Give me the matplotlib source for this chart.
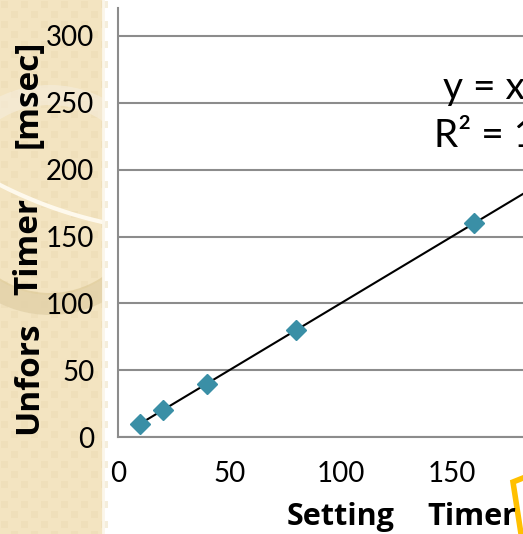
import matplotlib
matplotlib.use("Agg")
import matplotlib.pyplot as plt
from matplotlib.patches import Rectangle, Wedge
import numpy as np

# Data
setting_timer = [10, 20, 40, 80, 160]
unfors_timer = [10, 20, 40, 80, 160]
y_ticks = [0, 50, 100, 150, 200, 250, 300]
x_ticks = [0, 50, 100, 150, 200]
slope, intercept = 1.0, 0.0
eq_text = "y = x"
r2_text = "R² = 1"
x_label_words = ["Setting", "Timer", "[msec]"]
y_label_words = ["Unfors", "Timer", "[msec]"]

W, H = 523, 534
fig = plt.figure(figsize=(W / 100, H / 100), dpi=100)
fig.patch.set_facecolor("white")

# Background decoration (pixel coordinates)
bg = fig.add_axes([0, 0, 1, 1], zorder=0)
bg.set_xlim(0, W)
bg.set_ylim(H, 0)
bg.axis("off")
strip = Rectangle((0, 0), 103, H, facecolor="#F3E4C1", edgecolor="none")
bg.add_patch(strip)
for i in range(0, 103, 10):
    for j in range(0, H, 10):
        if ((i // 10) + (j // 10)) % 2 == 0:
            r = Rectangle((i + 1, j + 1), 7, 7, facecolor="#EBDAB2", edgecolor="none", alpha=0.45)
            bg.add_patch(r)
ring = Wedge((50, 200), 115, 0, 360, width=20, facecolor="#F6EEDC", edgecolor="none", alpha=0.6)
bg.add_patch(ring)
ring.set_clip_path(strip)
ring2 = Wedge((50, 200), 115, 25, 155, width=22, facecolor="#D9C48F", edgecolor="none", alpha=0.55)
bg.add_patch(ring2)
ring2.set_clip_path(strip)
# white highlight curve
t = np.linspace(0, 103, 60)
arc_y = -207 + np.sqrt(440 ** 2 - (t - 200) ** 2)
bg.plot(t, arc_y, color="#FFFBF0", lw=3, alpha=0.95)
bg.plot([103, 103], [0, H], color="#FBF6EA", lw=2)
# yellow callout outline at bottom right
bg.plot([523, 513, 521], [478, 482, 534], color="#FFC000", lw=4, solid_joinstyle="miter")

# Main axes
left_px, bottom_px, top_px = 118, 437, 8
xmax = 200
px_per_x = 2.227
ax_w = xmax * px_per_x
ax = fig.add_axes([left_px / W, (H - bottom_px) / H, ax_w / W, (bottom_px - top_px) / H], zorder=1)
ax.set_facecolor("none")
ax.set_xlim(0, xmax)
ax.set_ylim(0, (bottom_px - top_px) / (401 / 300))
ax.set_yticks(y_ticks)
ax.set_xticks(x_ticks)
ax.grid(axis="y", color="#8C8C8C", lw=1.5)
ax.set_axisbelow(True)
for s in ["top", "right"]:
    ax.spines[s].set_visible(False)
for s in ["left", "bottom"]:
    ax.spines[s].set_color("#8C8C8C")
    ax.spines[s].set_linewidth(1.5)
ax.tick_params(length=0, pad=17, labelsize=20)
for lab in ax.get_xticklabels() + ax.get_yticklabels():
    lab.set_fontfamily("Lato")

xs = np.array([min(setting_timer), xmax])
ax.plot(xs, slope * xs + intercept, color="black", lw=1.5, zorder=2)
ax.plot(setting_timer, unfors_timer, linestyle="none", marker="D", ms=10,
        color="#3A8FA6", zorder=3)

fig.text(443 / W, 1 - 99 / H, eq_text, fontsize=28, family="Lato", va="baseline")
fig.text(434 / W, 1 - 147 / H, r2_text, fontsize=28, family="Lato", va="baseline")

# x label words (left positions in px)
for word, xp in zip(x_label_words, [287, 427, 560]):
    fig.text(xp / W, 1 - 525 / H, word, fontsize=22, family="Open Sans",
             fontweight="bold", va="baseline", ha="left")
# y label words (center positions in px), rotated
for word, yp in zip(y_label_words, [378, 246, 94]):
    fig.text(37 / W, 1 - yp / H, word, fontsize=24, family="Open Sans",
             fontweight="bold", rotation=90, rotation_mode="anchor",
             va="baseline", ha="center")

fig.savefig("out.png", dpi=100)
